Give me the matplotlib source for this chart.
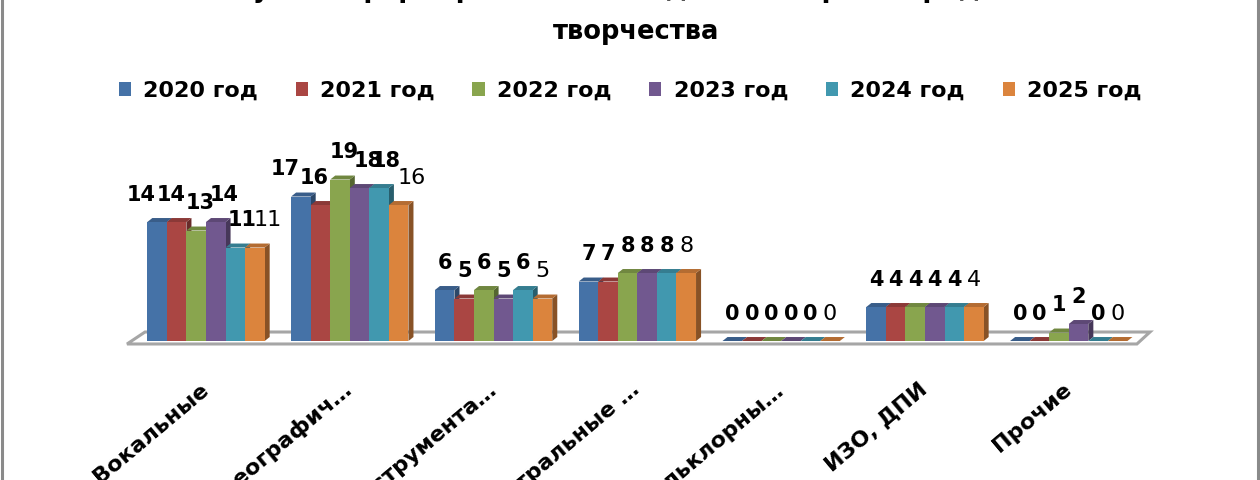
import matplotlib
matplotlib.use("Agg")
import matplotlib.pyplot as plt
import matplotlib.colors as mcolors
from matplotlib.patches import Polygon
from matplotlib.lines import Line2D
import numpy as np

categories = ["Вокальные", "Хореографич…", "Инструмента…", "Театральные …",
              "Фольклорны…", "ИЗО, ДПИ", "Прочие"]
years = ["2020 год", "2021 год", "2022 год", "2023 год", "2024 год", "2025 год"]
v2020 = [14, 17, 6, 7, 0, 4, 0]
v2021 = [14, 16, 5, 7, 0, 4, 0]
v2022 = [13, 19, 6, 8, 0, 4, 1]
v2023 = [14, 18, 5, 8, 0, 4, 2]
v2024 = [11, 18, 6, 8, 0, 4, 0]
v2025 = [11, 16, 5, 8, 0, 4, 0]
series = [v2020, v2021, v2022, v2023, v2024, v2025]
colors = ["#4572A7", "#AA4643", "#89A54E", "#71588F", "#4198AF", "#DB843D"]

title1 = "Клубные формирования по видам и жанрам народного"
title2 = "творчества"


def shade(c, f):
    return tuple(np.array(mcolors.to_rgb(c)) * f)


fig = plt.figure(figsize=(12.6, 4.8), dpi=100)
ax = fig.add_axes([0.0950, 0.2630, 0.8331, 0.4161])
ax.set_xlim(-0.6, 6.7)
ax.set_ylim(-1.5, 22)

# floor of the 3d box
floor = Polygon([(-0.549, -0.35), (-0.424, 1.06), (6.565, 1.06), (6.474, -0.35)],
                closed=True, fc="white", ec="#a6a6a6", lw=2.2, zorder=1)
ax.add_patch(floor)

x = np.arange(len(categories))
w = 0.136
dx, dy = 0.035, 0.47
nudge = [-0.11, -0.04, 0.03, 0.06, 0.05, 0.09]

for i, (vals, col, yr) in enumerate(zip(series, colors, years)):
    xs = x + (i - 2.5) * w
    z = 3 + i
    bars = ax.bar(xs, vals, width=w, color=col, label=yr, linewidth=0, zorder=z + 0.5)
    for b, v in zip(bars, vals):
        x0 = b.get_x()
        x1 = x0 + b.get_width()
        top = Polygon([(x0, v), (x0 + dx, v + dy), (x1 + dx, v + dy), (x1, v)],
                      closed=True, fc=shade(col, 0.82), ec="none", zorder=z)
        side = Polygon([(x1, 0), (x1 + dx, dy), (x1 + dx, v + dy), (x1, v)],
                       closed=True, fc=shade(col, 0.62), ec="none", zorder=z)
        ax.add_patch(side)
        ax.add_patch(top)
    for xi, v in zip(xs, vals):
        off = nudge[i] if v >= 10 else 0
        if i < 5:
            ax.text(xi + off, v + 3.2, str(v), ha="center", va="center",
                    fontsize=15, fontweight="bold", zorder=20)
        else:
            ax.text(xi + off, v + 3.2, str(v), ha="center", va="center",
                    fontsize=16, zorder=20)

for s in ax.spines.values():
    s.set_visible(False)
ax.set_yticks([])
ax.set_xticks(x, categories, rotation=40, ha="right", va="center",
              rotation_mode="anchor", fontsize=16, fontweight="bold")
ax.tick_params(axis="x", length=0, pad=24)

fig.legend(loc="center", bbox_to_anchor=(0.5, 1 - 91 / 480), ncol=6, frameon=False,
           prop={"size": 16, "weight": "bold"}, handlelength=0.55, handleheight=0.6,
           handletextpad=0.55, columnspacing=1.7)

fig.text(0.5, 1 + 3 / 480, title1, ha="center", va="baseline", fontsize=18.5, fontweight="bold")
fig.text(0.505, 1 - 39 / 480, title2, ha="center", va="baseline", fontsize=18.5, fontweight="bold")

fig.add_artist(Line2D([0.0012, 0.0012], [0, 1], transform=fig.transFigure, color="#8a8a8a", lw=2.2))
fig.add_artist(Line2D([0.9988, 0.9988], [0, 1], transform=fig.transFigure, color="#8a8a8a", lw=2.2))

fig.savefig("out.png", dpi=100)
